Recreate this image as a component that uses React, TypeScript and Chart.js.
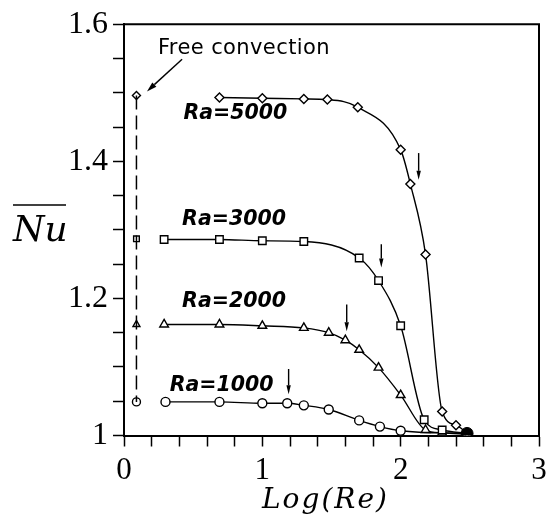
import { useEffect, useRef } from "react";
import { Chart, registerables } from "chart.js";

Chart.register(...registerables);

// Mean Nusselt number against log10(Re) for four Rayleigh numbers
const logRe5000 = [0.69, 1.0, 1.3, 1.47, 1.69, 2.0, 2.07, 2.18, 2.3, 2.4, 2.48];
const nu5000 = [1.493, 1.492, 1.491, 1.49, 1.479, 1.417, 1.367, 1.264, 1.035, 1.015, 1.004];

const logRe3000 = [0.29, 0.69, 1.0, 1.3, 1.7, 1.84, 2.0, 2.17, 2.3, 2.48];
const nu3000 = [1.286, 1.286, 1.284, 1.283, 1.259, 1.226, 1.16, 1.023, 1.008, 1.003];

const logRe2000 = [0.29, 0.69, 1.0, 1.3, 1.48, 1.6, 1.7, 1.84, 2.0, 2.18, 2.3, 2.48];
const nu2000 = [1.162, 1.162, 1.16, 1.157, 1.15, 1.139, 1.125, 1.099, 1.059, 1.008, 1.004, 1.002];

const logRe1000 = [0.3, 0.69, 1.0, 1.18, 1.3, 1.48, 1.7, 1.85, 2.0, 2.48];
const nu1000 = [1.049, 1.049, 1.047, 1.047, 1.044, 1.038, 1.022, 1.013, 1.007, 1.003];

// Pure free-convection values (Re -> 0), one per Rayleigh number
const freeLogRe = [0.09, 0.09, 0.09, 0.09];
const freeNu = [1.496, 1.287, 1.162, 1.049];
const freeStyles = ["rectRot", "rect", "triangle", "circle"];

// Point where all curves merge into the forced-convection limit
const mergeLogRe = [2.48];
const mergeNu = [1.003];

// Curve labels
const seriesLabels = ["Ra=5000", "Ra=3000", "Ra=2000", "Ra=1000"];
const labelLogRe = [0.43, 0.42, 0.42, 0.33];
const labelNu = [1.469, 1.315, 1.195, 1.072];

// Small downward arrows marking the onset of the drop
const arrowLogRe = [2.13, 1.86, 1.61, 1.19];
const arrowTopNu = [1.412, 1.279, 1.191, 1.097];
const arrowTipNu = [1.373, 1.245, 1.152, 1.06];

const yTickLabels = [1, 1.2, 1.4, 1.6];
const xTickLabels = [0, 1, 2, 3];

const toPoints = (xs: number[], ys: number[]) => xs.map((v, i) => ({ x: v, y: ys[i] }));

function drawArrow(ctx: CanvasRenderingContext2D, x0: number, y0: number, x1: number, y1: number, head: number, half: number) {
  const ang = Math.atan2(y1 - y0, x1 - x0);
  const bx = x1 - head * Math.cos(ang);
  const by = y1 - head * Math.sin(ang);
  ctx.beginPath();
  ctx.moveTo(x0, y0);
  ctx.lineTo(bx, by);
  ctx.stroke();
  ctx.beginPath();
  ctx.moveTo(x1, y1);
  ctx.lineTo(bx + half * Math.sin(ang), by - half * Math.cos(ang));
  ctx.lineTo(bx - half * Math.sin(ang), by + half * Math.cos(ang));
  ctx.closePath();
  ctx.fill();
}

const annotations = {
  id: "annotations",
  afterDatasetsDraw(chart: any) {
    const { ctx, chartArea, scales } = chart;
    const xs = scales.x;
    const ys = scales.y;
    const px = (v: number) => xs.getPixelForValue(v);
    const py = (v: number) => ys.getPixelForValue(v);
    ctx.save();
    ctx.fillStyle = "#000";
    ctx.strokeStyle = "#000";

    // top and right frame
    ctx.lineWidth = 2;
    ctx.beginPath();
    ctx.moveTo(chartArea.left, chartArea.top);
    ctx.lineTo(chartArea.right, chartArea.top);
    ctx.lineTo(chartArea.right, chartArea.bottom);
    ctx.stroke();

    // Ra labels
    ctx.font = "italic bold 20.5px 'DejaVu Sans'";
    ctx.textBaseline = "middle";
    ctx.textAlign = "left";
    seriesLabels.forEach((t, i) => ctx.fillText(t, px(labelLogRe[i]), py(labelNu[i])));

    // onset arrows
    ctx.lineWidth = 1.4;
    arrowLogRe.forEach((v, i) => {
      drawArrow(ctx, px(v), py(arrowTopNu[i]), px(v), py(arrowTipNu[i]), 9, 2.2);
    });

    // free convection note
    ctx.font = "21px 'DejaVu Sans'";
    (ctx as any).letterSpacing = "0.4px";
    ctx.fillText("Free convection", px(0.245), py(1.565));
    (ctx as any).letterSpacing = "0px";
    ctx.lineWidth = 1.4;
    drawArrow(ctx, px(0.42), py(1.549), px(0.166), py(1.502), 10, 3);

    // axis titles
    ctx.font = "italic 36px 'DejaVu Serif'";
    ctx.textBaseline = "alphabetic";
    ctx.fillText("Nu", 13, 241);
    ctx.lineWidth = 1.6;
    ctx.beginPath();
    ctx.moveTo(13, 205);
    ctx.lineTo(66, 205);
    ctx.stroke();

    ctx.font = "italic 28px 'DejaVu Serif'";
    (ctx as any).letterSpacing = "2px";
    ctx.fillText("Log(Re)", 262, 508);
    (ctx as any).letterSpacing = "0px";
    ctx.restore();
  },
};

export default function App() {
  const ref = useRef<HTMLCanvasElement | null>(null);

  useEffect(() => {
    if (!ref.current) return;
    const line = (xs: number[], ys: number[], style: string, r: number) => ({
      data: toPoints(xs, ys),
      showLine: true,
      cubicInterpolationMode: "monotone" as const,
      borderColor: "#000",
      borderWidth: 1.4,
      pointStyle: style,
      pointRadius: r,
      pointBorderColor: "#000",
      pointBackgroundColor: "#fff",
      pointBorderWidth: 1.4,
    });

    const chart = new Chart(ref.current, {
      type: "scatter",
      data: {
        datasets: [
          {
            data: toPoints(mergeLogRe, mergeNu),
            pointStyle: "circle",
            pointRadius: 6,
            pointBorderColor: "#000",
            pointBackgroundColor: "#000",
            pointBorderWidth: 1,
          } as any,
          {
            data: toPoints(freeLogRe, freeNu),
            showLine: true,
            borderColor: "#000",
            borderWidth: 1.5,
            borderDash: [14, 6],
            pointStyle: freeStyles as any,
            pointRadius: 4,
            pointBorderColor: "#000",
            pointBackgroundColor: "rgba(0,0,0,0)",
            pointBorderWidth: 1.4,
          } as any,
          line(logRe5000, nu5000, "rectRot", 4.5),
          line(logRe3000, nu3000, "rect", 5.3),
          line(logRe2000, nu2000, "triangle", 5),
          line(logRe1000, nu1000, "circle", 4.5),
        ],
      },
      options: {
        responsive: false,
        animation: false,
        layout: { padding: { left: 0, right: 16, top: 20, bottom: 0 } },
        plugins: { legend: { display: false }, tooltip: { enabled: false } },
        scales: {
          x: {
            type: "linear",
            min: 0,
            max: 3,
            afterFit: (s: any) => {
              s.height = 82.5;
            },
            border: { display: true, color: "#000", width: 2 },
            grid: { drawOnChartArea: false, drawTicks: true, tickLength: 11, color: "#000", tickWidth: 1.5 },
            ticks: {
              stepSize: 0.2,
              color: "#000",
              padding: 6,
              maxRotation: 0,
              autoSkip: false,
              font: { family: "'Liberation Serif'", size: 31 },
              callback: (v: any) => {
                const n = Math.round(Number(v) * 10) / 10;
                return xTickLabels.includes(n) ? String(n) : "";
              },
            },
          },
          y: {
            type: "linear",
            min: 1,
            max: 1.6,
            afterFit: (s: any) => {
              s.width = 124;
            },
            border: { display: true, color: "#000", width: 2 },
            grid: { drawOnChartArea: false, drawTicks: true, tickLength: 11, color: "#000", tickWidth: 1.5 },
            ticks: {
              stepSize: 0.05,
              color: "#000",
              padding: 5,
              autoSkip: false,
              font: { family: "'Liberation Serif'", size: 32 },
              callback: (v: any) => {
                const n = Math.round(Number(v) * 100) / 100;
                return yTickLabels.some((t) => Math.abs(t - n) < 1e-6) ? String(n) : "";
              },
            },
          },
        },
      },
      plugins: [annotations],
    });
    return () => chart.destroy();
  }, []);

  return (
    <div style={{ position: "absolute", left: 0, top: 0, width: 555, height: 518, background: "#fff" }}>
      <canvas ref={ref} width={555} height={518} />
    </div>
  );
}
